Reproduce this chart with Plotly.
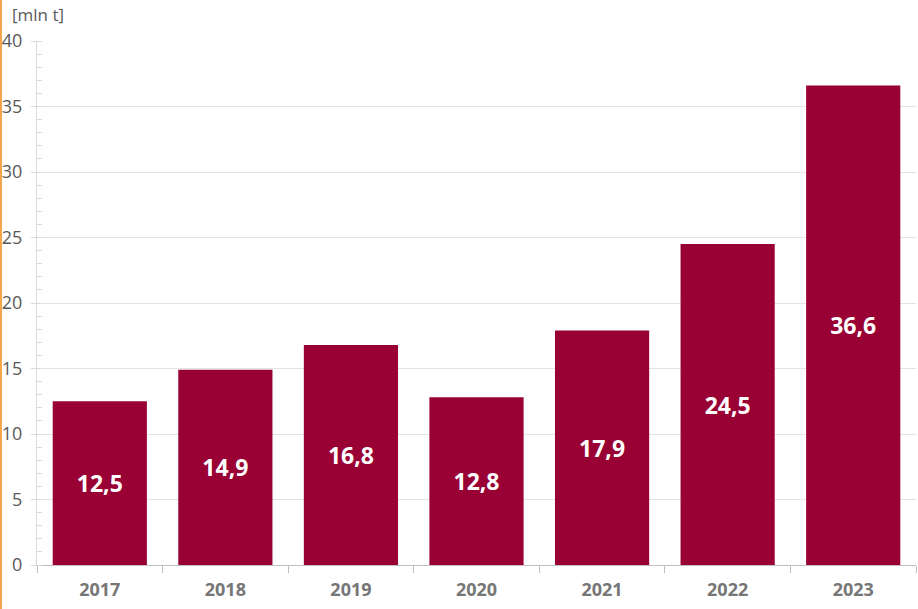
import plotly.graph_objects as go

years = ["2017", "2018", "2019", "2020", "2021", "2022", "2023"]
values = [12.5, 14.9, 16.8, 12.8, 17.9, 24.5, 36.6]
labels = ["12,5", "14,9", "16,8", "12,8", "17,9", "24,5", "36,6"]
y_ticks = [0, 5, 10, 15, 20, 25, 30, 35, 40]

W, H = 918, 609
ml, mr, mt, mb = 37, 2, 41, 44
pw = W - ml - mr
ph = H - mt - mb

fig = go.Figure(go.Bar(
    x=years, y=values, text=labels,
    textposition="inside", insidetextanchor="middle",
    textfont=dict(family="Open Sans", size=23, color="white", weight="bold"),
    marker=dict(color="#990033", line=dict(width=0)),
    width=0.75, cliponaxis=False, hoverinfo="skip",
))

fig.update_layout(
    width=W, height=H,
    margin=dict(l=ml, r=mr, t=mt, b=mb, autoexpand=False),
    paper_bgcolor="white", plot_bgcolor="white",
    showlegend=False,
    xaxis=dict(
        type="category", automargin=False,
        showgrid=False,
        showline=True, linecolor="#bfbfbf", linewidth=1,
        ticks="outside", tickson="boundaries", ticklen=7, tickcolor="#bfbfbf",
        ticklabelstandoff=8,
        tickfont=dict(family="Open Sans", size=18, color="#767676", weight="bold"),
    ),
    yaxis=dict(
        range=[0, 40], automargin=False,
        tickvals=y_ticks,
        showgrid=True, gridcolor="#e3e3e3", gridwidth=1,
        showline=True, linecolor="#d9d9d9", linewidth=1,
        ticks="outside", ticklen=5, tickcolor="#d9d9d9",
        ticklabelstandoff=5,
        tickfont=dict(family="Open Sans", size=18, color="#595959"),
        zeroline=False,
        minor=dict(dtick=1, ticks="inside", ticklen=5, tickcolor="#d9d9d9", showgrid=False),
    ),
    annotations=[dict(
        text="[mln t]", xref="paper", yref="paper",
        x=-27 / pw, y=1 + 26 / ph, xanchor="left", yanchor="middle",
        showarrow=False, font=dict(family="Open Sans", size=17, color="#595959"),
    )],
    shapes=[dict(
        type="line", xref="paper", yref="paper",
        x0=-36 / pw, x1=-36 / pw, y0=-mb / ph, y1=1 + mt / ph,
        line=dict(color="#f5a54a", width=2),
    )],
)

fig.write_html(
    "out.html",
    config={"displayModeBar": False, "staticPlot": True},
    post_script="document.body.style.margin='0';document.body.style.overflow='hidden';",
)
